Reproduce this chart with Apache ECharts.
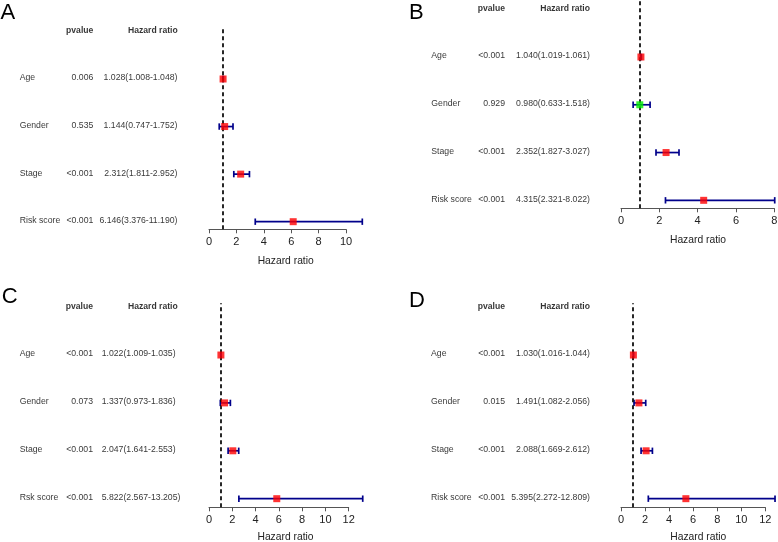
<!DOCTYPE html>
<html>
<head>
<meta charset="utf-8">
<script src="https://cdn.jsdelivr.net/npm/echarts@6/dist/echarts.min.js"></script>
<style>html,body{margin:0;padding:0;background:#fff}#c{width:778px;height:542px}</style>
</head>
<body>
<div id="c"></div>
<script>
// ---------- data ----------
const headerCols = ['pvalue', 'Hazard ratio'];
const axisTitle = 'Hazard ratio';

const factorsA = ['Age', 'Gender', 'Stage', 'Risk score'];
const pvalA = ['0.006', '0.535', '<0.001', '<0.001'];
const hrA = [1.028, 1.144, 2.312, 6.146];
const lowA = [1.008, 0.747, 1.811, 3.376];
const highA = [1.048, 1.752, 2.952, 11.190];
const ticksA = [0, 2, 4, 6, 8, 10];

const factorsB = ['Age', 'Gender', 'Stage', 'Risk score'];
const pvalB = ['<0.001', '0.929', '<0.001', '<0.001'];
const hrB = [1.040, 0.980, 2.352, 4.315];
const lowB = [1.019, 0.633, 1.827, 2.321];
const highB = [1.061, 1.518, 3.027, 8.022];
const ticksB = [0, 2, 4, 6, 8];

const factorsC = ['Age', 'Gender', 'Stage', 'Rsk score'];
const pvalC = ['<0.001', '0.073', '<0.001', '<0.001'];
const hrC = [1.022, 1.337, 2.047, 5.822];
const lowC = [1.009, 0.973, 1.641, 2.567];
const highC = [1.035, 1.836, 2.553, 13.205];
const ticksC = [0, 2, 4, 6, 8, 10, 12];

const factorsD = ['Age', 'Gender', 'Stage', 'Risk score'];
const pvalD = ['<0.001', '0.015', '<0.001', '<0.001'];
const hrD = [1.030, 1.491, 2.088, 5.395];
const lowD = [1.016, 1.082, 1.669, 2.272];
const highD = [1.044, 2.056, 2.612, 12.809];
const ticksD = [0, 2, 4, 6, 8, 10, 12];

// ---------- layout ----------
const panels = [
  {letter:'A', f:factorsA, p:pvalA, hr:hrA, lo:lowA, hi:highA, ticks:ticksA,
   lx:0.5, ly:12, gl:209, gw:137, gt:27, gh:202.3, ymin:0.84, ymax:5.093,
   tx:285.7, ty:261, labX:19.7, pX:93.3, hrX:177.5, hrAlign:'right', hrHeadX:177.7},
  {letter:'B', f:factorsB, p:pvalB, hr:hrB, lo:lowB, hi:highB, ticks:ticksB,
   lx:409, ly:11.7, gl:621, gw:153.3, gt:0, gh:208.3, ymin:0.833, ymax:5.193,
   tx:698, ty:240, labX:431.3, pX:505, hrX:590, hrAlign:'right', hrHeadX:590},
  {letter:'C', f:factorsC, p:pvalC, hr:hrC, lo:lowC, hi:highC, ticks:ticksC,
   lx:1.7, ly:296, gl:209, gw:139.7, gt:303.3, gh:204, ymin:0.82, ymax:5.08,
   tx:285.5, ty:536.7, labX:19.7, pX:93, hrX:101.7, hrAlign:'left', hrHeadX:177.7},
  {letter:'D', f:factorsD, p:pvalD, hr:hrD, lo:lowD, hi:highD, ticks:ticksD,
   lx:409, ly:299.5, gl:621, gw:144.3, gt:303.3, gh:204, ymin:0.82, ymax:5.08,
   tx:698.3, ty:536.7, labX:431, pX:505, hrX:590, hrAlign:'right', hrHeadX:590}
];

const FONT = 'Liberation Sans, Arial, Helvetica, sans-serif';
const TXT = '#000';
const grid = [], xAxis = [], yAxis = [], series = [], graphic = [];

panels.forEach((P, k) => {
  const n = P.f.length;
  const rowY = i => n - i;          // first row at top
  const headY = n + 1;
  const gPlot = grid.length;
  grid.push({left:P.gl, top:P.gt, width:P.gw, height:P.gh, outerBoundsMode:'none', containLabel:false});
  const gTab = grid.length;
  grid.push({left:0, top:P.gt, width:778, height:P.gh, outerBoundsMode:'none', containLabel:false});

  const step = P.ticks[1] - P.ticks[0];
  xAxis.push({gridIndex:gPlot, type:'value', min:P.ticks[0], max:P.ticks[P.ticks.length-1], interval:step,
    splitLine:{show:false},
    axisLine:{show:true, lineStyle:{color:'#555', width:1}},
    axisTick:{show:true, length:4, lineStyle:{color:'#555', width:1}},
    axisLabel:{fontFamily:FONT, fontSize:11, color:'#222', margin:7, showMinLabel:true, showMaxLabel:true}});
  yAxis.push({gridIndex:gPlot, type:'value', min:P.ymin, max:P.ymax, show:false});
  xAxis.push({gridIndex:gTab, type:'value', min:0, max:778, show:false});
  yAxis.push({gridIndex:gTab, type:'value', min:P.ymin, max:P.ymax, show:false});
  const xPlot = xAxis.length - 2, xTab = xAxis.length - 1;

  // error bars
  series.push({type:'custom', xAxisIndex:xPlot, yAxisIndex:xPlot, clip:false, silent:true,
    data: P.f.map((_, i) => [P.lo[i], P.hi[i], rowY(i)]),
    encode:{x:[0,1], y:2},
    renderItem: (params, api) => {
      const y = api.value(2);
      const a = api.coord([api.value(0), y]);
      const b = api.coord([api.value(1), y]);
      const st = {stroke:'#00008b', lineWidth:1.7};
      const h = 3.2;
      return {type:'group', children:[
        {type:'line', shape:{x1:a[0], y1:a[1], x2:b[0], y2:b[1]}, style:st},
        {type:'line', shape:{x1:a[0], y1:a[1]-h, x2:a[0], y2:a[1]+h}, style:st},
        {type:'line', shape:{x1:b[0], y1:b[1]-h, x2:b[0], y2:b[1]+h}, style:st}
      ]};
    }
  });
  // HR squares + reference line
  series.push({type:'scatter', xAxisIndex:xPlot, yAxisIndex:xPlot, clip:false, silent:true,
    symbol:'rect', symbolSize:7, z:5,
    data: P.f.map((_, i) => ({value:[P.hr[i], rowY(i)], itemStyle:{color: P.hr[i] > 1 ? '#ff0000' : '#00ee00'}})),
    markLine:{silent:true, symbol:'none', label:{show:false},
      lineStyle:{color:'#111', type:[4,3], width:1.8},
      data:[{xAxis:1}]}
  });

  // table text
  const items = [];
  const lbl = (x, y, text, pos, bold) => items.push({value:[x, y], name:text,
    label:{show:true, position:pos, distance:0, offset:[0,-1], formatter:'{b}', fontFamily:FONT,
      fontSize: bold ? 8.6 : 8.7, fontWeight: bold ? 'bold' : 'normal', color:TXT}});
  lbl(P.pX, headY, headerCols[0], 'left', true);
  lbl(P.hrHeadX, headY, headerCols[1], 'left', true);
  P.f.forEach((name, i) => {
    const y = rowY(i);
    lbl(P.labX, y, name, 'right', false);
    lbl(P.pX, y, P.p[i], 'left', false);
    const t = P.hr[i].toFixed(3) + '(' + P.lo[i].toFixed(3) + '-' + P.hi[i].toFixed(3) + ')';
    lbl(P.hrX, y, t, P.hrAlign === 'right' ? 'left' : 'right', false);
  });
  series.push({type:'scatter', xAxisIndex:xTab, yAxisIndex:xTab, symbolSize:0, clip:false, silent:true, data:items});

  graphic.push({type:'text', left:P.lx, top:P.ly - 10, style:{text:P.letter, font:'22px ' + FONT, fill:'#000'}});
  graphic.push({type:'text', x:P.tx, y:P.ty, style:{text:axisTitle, font:'10.3px ' + FONT, fill:'#222', align:'center', verticalAlign:'middle'}});
});

const chart = echarts.init(document.getElementById('c'), null, {renderer:'canvas'});
chart.setOption({animation:false, backgroundColor:'#fff', grid, xAxis, yAxis, series, graphic});
</script>
</body>
</html>
